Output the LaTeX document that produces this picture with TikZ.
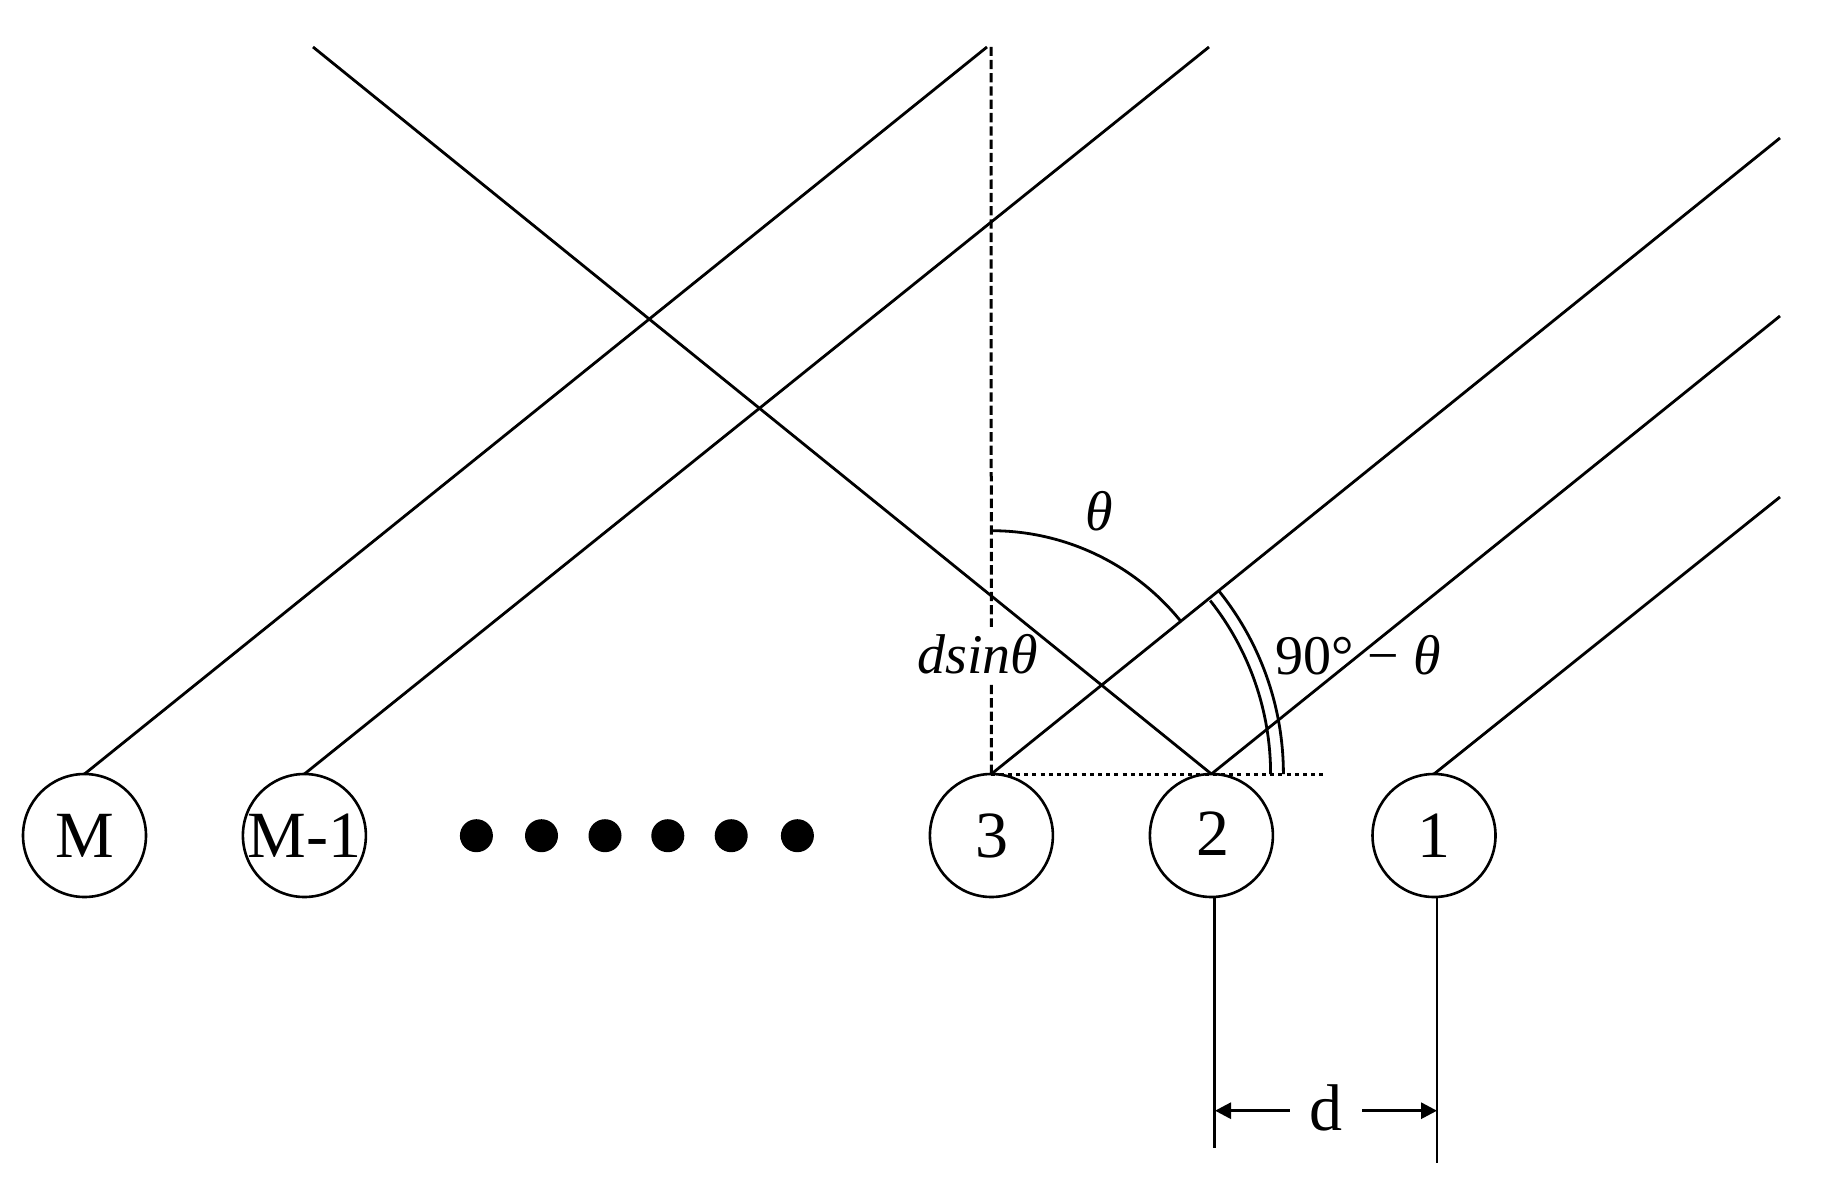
\documentclass[tikz,border=0pt]{standalone}
\usepackage{fontspec}
\setmainfont{Liberation Serif}
\usetikzlibrary{arrows.meta}
\tikzset{
  ray/.style={line width=2.8pt,black},
  element/.style={circle,draw,line width=2.6pt,minimum size=123pt,inner sep=0pt,outer sep=0pt,font=\fontsize{66}{66}\selectfont},
  blob/.style={circle,fill=black,minimum size=33pt,inner sep=0pt},
  guide/.style={line width=3pt,dash pattern=on 9.3pt off 4pt},
  base/.style={line width=3pt,dash pattern=on 4pt off 4.2pt},
  measure/.style={line width=3pt,-{Triangle[length=16pt,width=16pt]}},
  biglabel/.style={font=\fontsize{56}{56}\selectfont,inner sep=0pt}
}
\begin{document}
\begin{tikzpicture}[x=1pt,y=-1pt]
\useasboundingbox (0,0) rectangle (1833,1193);
\fill[white] (0,0) rectangle (1833,1193);
% elements
\node[element] (nM) at (84.5,835.5) {M};
\node[element] (nM1) at (304.4,835.5) {M-1};
\node[element] (n3) at (991.4,835.5) {\kern2pt 3};
\node[element] (n2) at (1211.4,835.5) {\kern4pt\raisebox{3pt}{2}};
\node[element] (n1) at (1434,835.5) {1};
\foreach \i/\x in {1/476.4,2/541.5,3/605,4/667.8,5/731.2,6/797.4}
  \node[blob] (dot\i) at (\x,835.7) {};
% free ends
\coordinate (eM) at (987,47);
\coordinate (eM1) at (1209,47);
\coordinate (eV) at (991,47);
\coordinate (eX) at (313,47);
\coordinate (e3) at (1780,138);
\coordinate (e2) at (1780,316);
\coordinate (e1) at (1780,497);
\coordinate (eD) at (1327,774);
\coordinate (b2) at (1214.6,1148);
\coordinate (b1) at (1437,1163);
\coordinate (a2) at (1215,1110.7);
\coordinate (a1) at (1437,1110.7);
% dashed normal, with its label over it
\draw[guide] (n3.north) -- (eV);
\node[biglabel,fill=white,minimum height=55pt] (lds) at (978,654) {\textit{dsinθ}};
% rays
\draw[ray] (nM.north) -- (eM);
\draw[ray] (nM1.north) -- (eM1);
\draw[ray] (n2.north) -- (eX);
\draw[ray] (n3.north) -- (e3);
\draw[ray] (n2.north) -- (e2);
\draw[ray] (n1.north) -- (e1);
\draw[base] (n3.north) -- (eD);
% angles
\draw[ray] (991.4,530.7) arc[start angle=-90,end angle=-38.9,radius=243.3];
\draw[ray] (1270.6,774) arc[start angle=0,end angle=-38.4,radius=279.2];
\draw[ray] (1283.4,774) arc[start angle=0,end angle=-38.9,radius=292];
\node[biglabel] (lth) at (1099.6,511) {\textit{θ}};
\node[biglabel] (l90) at (1358,655) {90° − \textit{θ}};
% spacing
\draw[ray] (n2.south -| b2) -- (b2);
\draw[ray] (n1.south -| b1) -- (b1);
\node[font=\fontsize{66}{66}\selectfont,inner ysep=0pt,inner xsep=19.5pt] (ld) at (1326,1107.5) {d};
\draw[measure] (ld.west |- a2) -- (a2);
\draw[measure] (ld.east |- a1) -- (a1);
\end{tikzpicture}
\end{document}
